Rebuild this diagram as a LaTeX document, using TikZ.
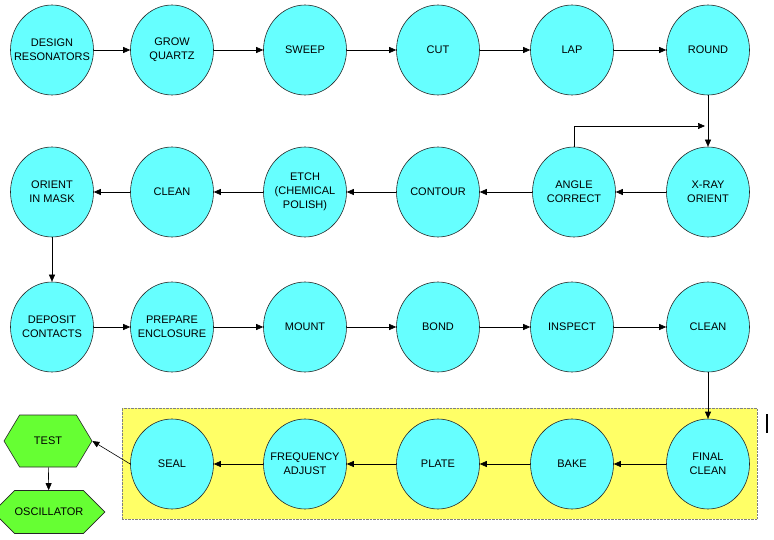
\documentclass[tikz,border=0pt]{standalone}
\usepackage{fontspec}
\setmainfont{Liberation Sans}
\usetikzlibrary{arrows.meta, positioning, shapes.geometric, shapes.symbols}
\definecolor{stepcyan}{HTML}{66FFFF}
\definecolor{testgreen}{HTML}{66FF33}
\definecolor{ovenyellow}{HTML}{FFFF66}

\begin{document}
\begin{tikzpicture}[
  x=1pt, y=-1pt,
  stepnode/.style={ellipse, draw=black!85, fill=stepcyan, line width=0.6pt,
              minimum width=83pt, minimum height=90pt, inner xsep=-18pt,
              inner ysep=0pt, align=center, font=\fontsize{11}{14}\selectfont},
  hexnode/.style={signal, signal to=west and east, draw=black!85,
              fill=testgreen, line width=0.6pt, inner sep=0pt,
              font=\fontsize{11}{14}\selectfont},
  arrow/.style={-{Triangle[length=7pt, width=6pt]}, line width=0.6pt}
]
  \useasboundingbox (0,0) rectangle (774,540);

  % yellow box behind the last row
  \node[draw=black!50, densely dotted, fill=ovenyellow, minimum width=635pt,
        minimum height=111pt, inner sep=0pt] (oven) at (439.5,463.5) {};

  % row 1
  \node[stepnode] (design)  at (52,50)  {DESIGN\\RESONATORS};
  \node[stepnode] (grow)    at (172,50) {GROW\\QUARTZ};
  \node[stepnode] (sweep)   at (305,50) {SWEEP};
  \node[stepnode] (cut)     at (438,50) {CUT};
  \node[stepnode] (lap)     at (572,50) {LAP};
  \node[stepnode] (round)   at (708,50) {ROUND};

  % row 2
  \node[stepnode] (xray)    at (708,192) {X-RAY\\ORIENT};
  \node[stepnode] (angle)   at (574,192) {ANGLE\\CORRECT};
  \node[stepnode] (contour) at (438,192) {CONTOUR};
  \node[stepnode] (etch)    at (305,192) {ETCH\\(CHEMICAL\\POLISH)};
  \node[stepnode] (clean)   at (172,192) {CLEAN};
  \node[stepnode] (mask)    at (52,192)  {ORIENT\\IN MASK};

  % row 3
  \node[stepnode] (deposit) at (52,327)  {DEPOSIT\\CONTACTS};
  \node[stepnode] (prepare) at (172,327) {PREPARE\\ENCLOSURE};
  \node[stepnode] (mount)   at (305,327) {MOUNT};
  \node[stepnode] (bond)    at (438,327) {BOND};
  \node[stepnode] (inspect) at (572,327) {INSPECT};
  \node[stepnode] (reclean) at (708,327) {CLEAN};

  % row 4
  \node[stepnode] (final)   at (708,464) {FINAL\\CLEAN};
  \node[stepnode] (bake)    at (572,464) {BAKE};
  \node[stepnode] (plate)   at (438,464) {PLATE};
  \node[stepnode] (freq)    at (305,464) {FREQUENCY\\ADJUST};
  \node[stepnode] (seal)    at (172,464) {SEAL};

  \node[hexnode, minimum width=88pt, minimum height=52pt,
        signal pointer angle=118] (test) at (48,441) {TEST};
  \node[hexnode, minimum width=95pt, minimum height=43pt,
        signal pointer angle=90] (osc) at (49,512) {OSCILLATOR};

  \draw[arrow] (design) -- (grow);
  \draw[arrow] (grow) -- (sweep);
  \draw[arrow] (sweep) -- (cut);
  \draw[arrow] (cut) -- (lap);
  \draw[arrow] (lap) -- (round);
  \draw[arrow] (round) -- (xray);

  \coordinate (loop) at (705,126);
  \draw[arrow] (angle.north) |- (loop);

  \draw[arrow] (xray) -- (angle);
  \draw[arrow] (angle) -- (contour);
  \draw[arrow] (contour) -- (etch);
  \draw[arrow] (etch) -- (clean);
  \draw[arrow] (clean) -- (mask);
  \draw[arrow] (mask) -- (deposit);

  \draw[arrow] (deposit) -- (prepare);
  \draw[arrow] (prepare) -- (mount);
  \draw[arrow] (mount) -- (bond);
  \draw[arrow] (bond) -- (inspect);
  \draw[arrow] (inspect) -- (reclean);
  \draw[arrow] (reclean) -- (final);

  \draw[arrow] (final) -- (bake);
  \draw[arrow] (bake) -- (plate);
  \draw[arrow] (plate) -- (freq);
  \draw[arrow] (freq) -- (seal);
  \draw[arrow] (seal.west) -- (test.east);
  \draw[arrow] (test) -- (osc);

  \coordinate (barA) at (767,414);
  \coordinate (barB) at (767,433);
  \draw[line width=2.5pt] (barA) -- (barB);
\end{tikzpicture}
\end{document}
